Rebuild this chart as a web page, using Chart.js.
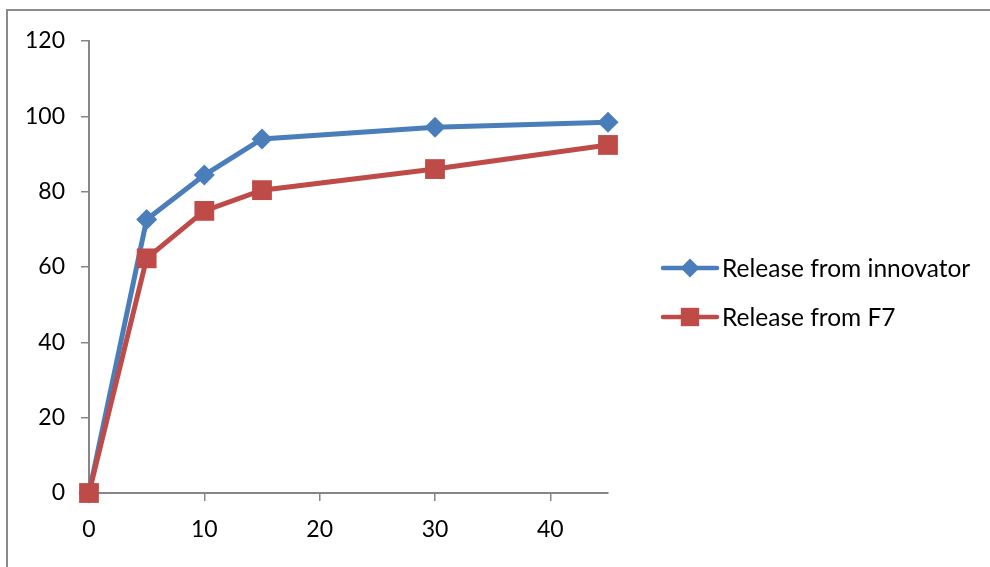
<!DOCTYPE html>
<html>
<head>
<meta charset="utf-8">
<script src="https://cdn.jsdelivr.net/npm/chart.js@4/dist/chart.umd.min.js"></script>
<style>
  html, body { margin: 0; padding: 0; background: #fff; overflow: hidden; }
  #wrap { position: relative; width: 990px; height: 567px; }
  #frame { position: absolute; left: 6px; top: 9px; width: 1200px; height: 800px;
           border-top: 2px solid #8a8a8a; border-left: 2px solid #8a8a8a; box-sizing: border-box; }
  canvas { position: absolute; left: 0; top: 0; }
</style>
</head>
<body>
<div id="wrap">
  <div id="frame"></div>
  <canvas id="c" width="990" height="567"></canvas>
</div>
<script>
// Time points (min)
const timePoints = [0, 5, 10, 15, 30, 45];
// Cumulative drug release (%)
const innovatorRelease = [0, 72.6, 84.4, 94.0, 97.1, 98.4];
const f7Release = [0, 62.3, 74.9, 80.4, 86.0, 92.4];
const seriesNames = ['Release from innovator', 'Release from F7'];
const yTicks = [0, 20, 40, 60, 80, 100, 120];
const xTicks = [0, 10, 20, 30, 40];

const BLUE = '#4A7EBB';
const RED = '#BE4B48';
const FONT = 'Lato';

const toPoints = (vals) => timePoints.map((t, i) => ({ x: t, y: vals[i] }));

// Legend drawn at the right: a short line with the series marker, then its name
const sideLegend = {
  id: 'sideLegend',
  afterDraw(chart) {
    const ctx = chart.ctx;
    const items = [
      { name: seriesNames[0], color: BLUE, style: 'rectRot', r: 9.5, y: 268 },
      { name: seriesNames[1], color: RED, style: 'rect', r: 13, y: 317 }
    ];
    ctx.save();
    items.forEach(it => {
      ctx.strokeStyle = it.color;
      ctx.lineWidth = 4.5;
      ctx.lineCap = 'round';
      ctx.beginPath();
      ctx.moveTo(663, it.y);
      ctx.lineTo(717, it.y);
      ctx.stroke();
      ctx.fillStyle = it.color;
      Chart.helpers.drawPoint(ctx, { pointStyle: it.style, rotation: 0, borderWidth: 0, radius: it.r }, 690, it.y);
      ctx.fillStyle = '#000';
      ctx.font = '24.5px ' + FONT;
      ctx.textBaseline = 'middle';
      ctx.textAlign = 'left';
      ctx.fillText(it.name, 722, it.y + 1);
    });
    ctx.restore();
  }
};

new Chart(document.getElementById('c'), {
  type: 'line',
  data: {
    datasets: [
      {
        label: seriesNames[0],
        data: toPoints(innovatorRelease),
        borderColor: BLUE,
        backgroundColor: BLUE,
        borderWidth: 5,
        pointStyle: 'rectRot',
        pointRadius: 10.5,
        pointBorderWidth: 0,
        order: 1,
        clip: false,
        tension: 0
      },
      {
        label: seriesNames[1],
        data: toPoints(f7Release),
        borderColor: RED,
        backgroundColor: RED,
        borderWidth: 5,
        pointStyle: 'rect',
        pointRadius: 14,
        pointBorderWidth: 0,
        order: 0,
        clip: false,
        tension: 0
      }
    ]
  },
  options: {
    responsive: false,
    animation: false,
    events: [],
    layout: { padding: { left: 0, top: 41, right: 382, bottom: 0 } },
    plugins: { legend: { display: false }, tooltip: { enabled: false } },
    scales: {
      x: {
        type: 'linear',
        min: 0,
        max: 45,
        afterFit(s) { s.height = 74; },
        afterBuildTicks(s) { s.ticks = xTicks.map(v => ({ value: v })); },
        grid: { drawOnChartArea: false, drawTicks: true, tickLength: 8, color: '#868686', lineWidth: 1.5 },
        border: { color: '#868686', width: 2 },
        ticks: { color: '#000', font: { family: FONT, size: 23 }, padding: 15, maxRotation: 0 }
      },
      y: {
        min: 0,
        max: 120,
        afterFit(s) { s.width = 89; },
        afterBuildTicks(s) { s.ticks = yTicks.map(v => ({ value: v })); },
        grid: { drawOnChartArea: false, drawTicks: true, tickLength: 8, color: '#868686', lineWidth: 1.5 },
        border: { color: '#868686', width: 2 },
        ticks: { color: '#000', font: { family: FONT, size: 23 }, padding: 16 }
      }
    }
  },
  plugins: [sideLegend]
});
</script>
</body>
</html>
